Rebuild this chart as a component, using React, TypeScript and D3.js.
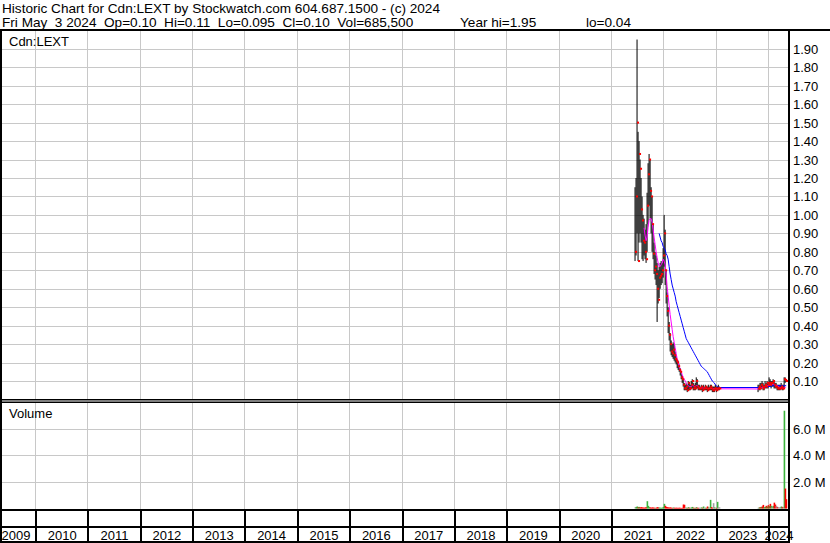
import React from "react";
import * as d3 from "d3";

const W = 830;
const H = 543;

const headerLine1 = "Historic Chart for Cdn:LEXT by Stockwatch.com 604.687.1500 - (c) 2024";
const headerLine2 = "Fri May  3 2024  Op=0.10  Hi=0.11  Lo=0.095  Cl=0.10  Vol=685,500";
const headerYearHi = "Year hi=1.95";
const headerYearLo = "lo=0.04";

const years = [2009, 2010, 2011, 2012, 2013, 2014, 2015, 2016, 2017, 2018, 2019, 2020, 2021, 2022, 2023, 2024];
const priceTicks = [0.1, 0.2, 0.3, 0.4, 0.5, 0.6, 0.7, 0.8, 0.9, 1.0, 1.1, 1.2, 1.3, 1.4, 1.5, 1.6, 1.7, 1.8, 1.9];
const volumeTicks = [2, 4, 6];

// weekly bars, first stretch (Jun 2021 - Jan 2023)
const startA = "2021-06-14";
const highA = [
  1.15, 1.2, 1.95, 1.45, 1.4, 1.3, 1.2, 1.1, 1.0, 0.98,
  0.92, 0.95, 1.12, 1.28, 1.33, 1.3, 1.15, 1.1, 0.95, 0.85,
  0.8, 0.78, 0.74, 0.7, 0.72, 0.74, 0.75, 0.74, 0.82, 1.0,
  0.92, 0.7, 0.58, 0.5, 0.42, 0.36, 0.32, 0.3, 0.31, 0.3,
  0.26, 0.24, 0.22, 0.21, 0.19, 0.17, 0.15, 0.13, 0.11, 0.09,
  0.08, 0.09, 0.08, 0.1, 0.09, 0.08, 0.1, 0.11, 0.09, 0.08,
  0.09, 0.12, 0.11, 0.08, 0.08, 0.07, 0.08, 0.07, 0.08, 0.07,
  0.08, 0.07, 0.07, 0.08, 0.07, 0.08, 0.08, 0.07, 0.07, 0.07,
  0.08, 0.07, 0.07, 0.08, 0.07,
];
const lowA = [
  0.75, 0.78, 0.9, 0.75, 0.85, 0.9, 0.85, 0.76, 0.75, 0.78,
  0.76, 0.74, 0.8, 0.95, 1.05, 0.98, 0.9, 0.8, 0.76, 0.68,
  0.65, 0.62, 0.42, 0.52, 0.55, 0.6, 0.62, 0.63, 0.66, 0.72,
  0.62, 0.52, 0.45, 0.36, 0.32, 0.26, 0.24, 0.23, 0.22, 0.21,
  0.2, 0.19, 0.17, 0.16, 0.15, 0.13, 0.11, 0.09, 0.07, 0.05,
  0.05, 0.05, 0.04, 0.05, 0.05, 0.05, 0.06, 0.06, 0.05, 0.05,
  0.05, 0.06, 0.06, 0.05, 0.05, 0.05, 0.05, 0.04, 0.05, 0.05,
  0.05, 0.05, 0.04, 0.05, 0.05, 0.05, 0.05, 0.04, 0.04, 0.04,
  0.05, 0.04, 0.05, 0.05, 0.05,
];
const closeA = [
  0.8, 1.1, 1.5, 0.75, 1.33, 1.25, 1.03, 0.97, 0.86, 0.85,
  0.8, 0.76, 1.05, 1.22, 1.3, 1.13, 1.1, 0.95, 0.79, 0.7,
  0.72, 0.68, 0.6, 0.54, 0.66, 0.67, 0.68, 0.7, 0.78, 0.9,
  0.7, 0.56, 0.48, 0.4, 0.35, 0.3, 0.26, 0.25, 0.27, 0.24,
  0.22, 0.21, 0.2, 0.18, 0.16, 0.15, 0.12, 0.11, 0.08, 0.06,
  0.06, 0.07, 0.05, 0.09, 0.06, 0.06, 0.08, 0.1, 0.06, 0.07,
  0.06, 0.1, 0.07, 0.06, 0.06, 0.06, 0.07, 0.05, 0.06, 0.06,
  0.07, 0.06, 0.05, 0.06, 0.06, 0.07, 0.06, 0.05, 0.05, 0.06,
  0.06, 0.05, 0.06, 0.06, 0.06,
];
const volA = [
  0.1, 0.12, 0.15, 0.1, 0.12, 0.08, 0.1, 0.08, 0.07, 0.06,
  0.08, 0.1, 0.55, 0.2, 0.1, 0.08, 0.06, 0.08, 0.07, 0.06,
  0.05, 0.06, 0.1, 0.08, 0.07, 0.06, 0.05, 0.06, 0.12, 0.35,
  0.2, 0.12, 0.1, 0.08, 0.07, 0.08, 0.06, 0.05, 0.07, 0.06,
  0.05, 0.06, 0.05, 0.05, 0.06, 0.05, 0.04, 0.05, 0.3, 0.28,
  0.08, 0.06, 0.05, 0.1, 0.06, 0.05, 0.08, 0.12, 0.06, 0.05,
  0.05, 0.1, 0.06, 0.05, 0.06, 0.05, 0.08, 0.06, 0.15, 0.05,
  0.06, 0.05, 0.15, 0.08, 0.06, 0.65, 0.1, 0.06, 0.4, 0.08,
  0.06, 0.05, 0.5, 0.1, 0.08,
];
const fastMaA = [
  null, null, null, null, null, null, null, null, null, 0.93,
  0.89, 0.86, 0.88, 0.93, 0.97, 0.98, 0.98, 0.96, 0.92, 0.88,
  0.84, 0.8, 0.77, 0.74, 0.72, 0.72, 0.73, 0.74, 0.76, 0.75,
  0.73, 0.68, 0.61, 0.56, 0.51, 0.46, 0.42, 0.38, 0.34, 0.31,
  0.28, 0.25, 0.22, 0.2, 0.18, 0.165, 0.15, 0.135, 0.12, 0.11,
  0.1, 0.09, 0.08, 0.075, 0.07, 0.07, 0.07, 0.075, 0.075, 0.07,
  0.07, 0.075, 0.075, 0.07, 0.065, 0.065, 0.065, 0.063, 0.062, 0.062,
  0.062, 0.06, 0.06, 0.06, 0.06, 0.06, 0.06, 0.058, 0.058, 0.058,
  0.058, 0.058, 0.058, 0.058, 0.058,
];
const slowMaA = [
  null, null, null, null, null, null, null, null, null, null,
  null, null, null, null, null, null, null, null, null, null,
  null, null, null, null, 0.9, 0.88, 0.86, 0.85, 0.83, 0.82,
  0.81, 0.79, 0.78, 0.76, 0.72, 0.68, 0.65, 0.62, 0.6, 0.58,
  0.56, 0.53, 0.51, 0.49, 0.47, 0.45, 0.43, 0.41, 0.39, 0.37,
  0.35, 0.33, 0.32, 0.31, 0.3, 0.29, 0.28, 0.27, 0.26, 0.25,
  0.24, 0.23, 0.22, 0.21, 0.2, 0.19, 0.18, 0.175, 0.17, 0.165,
  0.16, 0.155, 0.15, 0.14, 0.13, 0.12, 0.11, 0.1, 0.095, 0.09,
  0.08, 0.075, 0.07, 0.067, 0.065,
];

// weekly bars, second stretch (Oct 2023 - May 2024)
const startB = "2023-10-20";
const highB = [
  0.08, 0.08, 0.09, 0.09, 0.1, 0.09, 0.08, 0.1, 0.09, 0.1,
  0.09, 0.12, 0.11, 0.1, 0.1, 0.11, 0.1, 0.09, 0.09, 0.08,
  0.08, 0.08, 0.08, 0.09, 0.08, 0.08, 0.12, 0.12, 0.11,
];
const lowB = [
  0.04, 0.05, 0.05, 0.06, 0.06, 0.05, 0.05, 0.06, 0.06, 0.06,
  0.06, 0.07, 0.07, 0.06, 0.07, 0.07, 0.06, 0.06, 0.06, 0.05,
  0.05, 0.05, 0.05, 0.06, 0.05, 0.05, 0.06, 0.09, 0.095,
];
const closeB = [
  0.06, 0.07, 0.06, 0.08, 0.07, 0.06, 0.07, 0.08, 0.07, 0.09,
  0.08, 0.09, 0.08, 0.09, 0.09, 0.1, 0.08, 0.07, 0.07, 0.06,
  0.06, 0.06, 0.06, 0.07, 0.06, 0.06, 0.11, 0.105, 0.1,
];
const volB = [
  0.05, 0.08, 0.1, 0.12, 0.15, 0.27, 0.1, 0.12, 0.2, 0.15,
  0.25, 0.18, 0.35, 0.2, 0.15, 0.2, 0.44, 0.3, 0.2, 0.12,
  0.1, 0.08, 0.1, 0.15, 0.12, 0.1, 7.35, 1.5, 0.7,
];
const fastMaB = [
  0.057, 0.058, 0.06, 0.062, 0.065, 0.067, 0.068, 0.07, 0.072, 0.074,
  0.076, 0.078, 0.08, 0.08, 0.082, 0.084, 0.083, 0.08, 0.077, 0.074,
  0.07, 0.067, 0.065, 0.064, 0.063, 0.063, 0.064, 0.066, 0.068,
];
const slowMaB = [
  0.065, 0.065, 0.065, 0.066, 0.066, 0.067, 0.067, 0.068, 0.068, 0.069,
  0.07, 0.07, 0.071, 0.072, 0.073, 0.074, 0.075, 0.075, 0.076, 0.076,
  0.076, 0.075, 0.075, 0.075, 0.074, 0.074, 0.074, 0.075, 0.076,
];

interface Bar {
  date: Date;
  high: number;
  low: number;
  close: number;
  vol: number;
  fast: number | null;
  slow: number | null;
}

const parse = d3.timeParse("%Y-%m-%d");

function buildBars(start: string, hi: number[], lo: number[], cl: number[], vo: number[], fa: (number | null)[], sl: (number | null)[]): Bar[] {
  const s = parse(start)!;
  return hi.map((h, i) => ({
    date: d3.timeDay.offset(s, 7 * i),
    high: h,
    low: lo[i],
    close: cl[i],
    vol: vo[i],
    fast: fa[i],
    slow: sl[i],
  }));
}

const bars: Bar[] = [
  ...buildBars(startA, highA, lowA, closeA, volA, fastMaA, slowMaA),
  ...buildBars(startB, highB, lowB, closeB, volB, fastMaB, slowMaB),
];

const FONT = "'Liberation Sans', Arial, sans-serif";
const GRID = "#c8c8c8";

const App: React.FC = () => {
  const left = 2;
  const right = 788;
  const priceTop = 31;
  const priceBottom = 400;
  const volTop = 403;
  const volBottom = 509;
  const bandBottom = 526;

  const x = d3
    .scaleTime()
    .domain([new Date(2010, 0, 1), new Date(2024, 0, 1)])
    .range([35, 768]);
  const y = d3.scaleLinear().domain([0, 2]).range([399.5, 30.3]);
  const yv = d3.scaleLinear().domain([0, 8]).range([508.5, 402.1]);

  const yearX = (yr: number) => x(new Date(yr, 0, 1));
  const bounds = years.slice(1).map(yearX);

  const fastLine = d3
    .line<Bar>()
    .defined((d) => d.fast != null)
    .x((d) => x(d.date) + 0.5)
    .y((d) => y(d.fast as number));
  const slowLine = d3
    .line<Bar>()
    .defined((d) => d.slow != null)
    .x((d) => x(d.date) + 0.5)
    .y((d) => y(d.slow as number));

  const volColor = (i: number) => {
    if (i === 0) return "#a0a0a0";
    const diff = bars[i].close - bars[i - 1].close;
    if (diff > 0.0001) return "#3cb43c";
    if (diff < -0.0001) return "#ff0000";
    return "#a0a0a0";
  };

  return (
    <svg
      width={W}
      height={H}
      style={{ position: "fixed", left: 0, top: 0, background: "#fff" }}
      fontFamily={FONT}
    >
      <rect x={0} y={0} width={W} height={H} fill="#fff" />

      {/* header */}
      <text x={2} y={12.5} fontSize={13.6} xmlSpace="preserve">
        {headerLine1}
      </text>
      <text x={2} y={26.5} fontSize={13.6} xmlSpace="preserve">
        {headerLine2}
      </text>
      <text x={460} y={26.5} fontSize={13.6}>{headerYearHi}</text>
      <text x={586} y={26.5} fontSize={13.6}>{headerYearLo}</text>

      {/* grid */}
      {priceTicks.map((t) => (
        <line key={"pg" + t} x1={left} x2={right} y1={Math.round(y(t)) + 0.5} y2={Math.round(y(t)) + 0.5} stroke={GRID} />
      ))}
      {volumeTicks.map((t) => (
        <line key={"vg" + t} x1={left} x2={right} y1={Math.round(yv(t)) + 0.5} y2={Math.round(yv(t)) + 0.5} stroke={GRID} />
      ))}
      {bounds.map((bx, i) => (
        <g key={"yg" + i}>
          <line x1={Math.round(bx) + 0.5} x2={Math.round(bx) + 0.5} y1={priceTop} y2={priceBottom} stroke={GRID} />
          <line x1={Math.round(bx) + 0.5} x2={Math.round(bx) + 0.5} y1={volTop} y2={volBottom} stroke={GRID} />
        </g>
      ))}

      {/* volume */}
      {bars.map((d, i) => (
        <rect
          key={"v" + i}
          x={x(d.date)}
          y={yv(d.vol)}
          width={1.6}
          height={yv(0) - yv(d.vol)}
          fill={volColor(i)}
        />
      ))}

      {/* price bars */}
      {bars.map((d, i) => (
        <rect
          key={"b" + i}
          x={x(d.date)}
          y={y(d.high)}
          width={1}
          height={Math.max(1, y(d.low) - y(d.high))}
          fill="#000"
        />
      ))}
      <path d={slowLine(bars) || ""} fill="none" stroke="#0000ff" strokeWidth={1} />
      <path d={fastLine(bars) || ""} fill="none" stroke="#ff00ff" strokeWidth={1} />
      {bars.map((d, i) => (
        <rect key={"c" + i} x={x(d.date) + 0.5} y={y(d.close) - 1} width={2} height={2} fill="#ff0000" />
      ))}

      {/* labels */}
      <text x={9} y={46} fontSize={13}>Cdn:LEXT</text>
      <text x={9} y={418} fontSize={13}>Volume</text>

      {priceTicks.map((t) => (
        <text key={"pt" + t} x={793} y={y(t) + 5} fontSize={13}>
          {t.toFixed(2)}
        </text>
      ))}
      {volumeTicks.map((t) => (
        <text key={"vt" + t} x={793} y={yv(t) + 5} fontSize={13}>
          {t.toFixed(1) + " M"}
        </text>
      ))}

      {/* frame */}
      <rect x={0} y={29} width={W} height={2} fill="#000" />
      <rect x={0} y={29} width={2} height={H - 29} fill="#000" />
      <rect x={right} y={29} width={2} height={H - 29} fill="#000" />
      <rect x={0} y={399} width={right} height={1.5} fill="#000" />
      <rect x={0} y={401.5} width={right} height={1.5} fill="#000" />
      <rect x={0} y={volBottom} width={right} height={2} fill="#000" />
      <rect x={0} y={bandBottom} width={right} height={2} fill="#000" />
      <rect x={0} y={541} width={right} height={2} fill="#000" />
      {bounds.map((bx, i) => (
        <rect key={"yd" + i} x={Math.round(bx)} y={volBottom} width={2} height={H - volBottom} fill="#000" />
      ))}

      {/* year labels */}
      {years.map((yr, i) => {
        const a = Math.max(left, yearX(yr));
        const b = Math.min(right, yearX(yr + 1));
        const cx = i === 0 ? 16 : (a + b) / 2 + 1;
        return (
          <text key={"yl" + yr} x={cx} y={539.5} fontSize={13} textAnchor="middle">
            {yr}
          </text>
        );
      })}
    </svg>
  );
};

export default App;
